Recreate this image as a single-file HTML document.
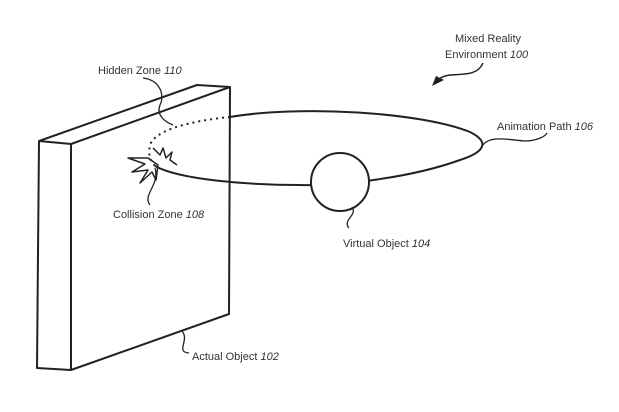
<!DOCTYPE html>
<html><head><style>
body{margin:0;background:#fff;}
svg{display:block}
text{font-family:"Liberation Sans",sans-serif;font-size:11px;fill:#333}
</style></head><body>
<svg width="619" height="412" viewBox="0 0 619 412" xmlns="http://www.w3.org/2000/svg">
<g fill="none" stroke="#222" stroke-width="2" stroke-linejoin="round">
<!-- box -->
<path d="M39,141 L197,85 L230,87 L71,144 Z"/>
<path d="M39,141 L37,368 L71,370 L71,144"/>
<path d="M230,87 L229,314 L71,370"/>
<!-- ellipse visible part -->
<path d="M230,117 C300,105 420,112 470,132 C490,142 485,152 460,160 C410,178 340,186 300,185 C250,185 180,180 155,166"/>
<path d="M230,117 C190,121 155,130 150,145 C148,155 150,160 155,166" stroke-dasharray="2,4"/>
<circle cx="340" cy="182" r="29" fill="#fff"/>
<!-- collision star -->
<path stroke-width="1.5" d="M153,148 L160,155 L163,148 L166,158 L172,152 L170,160 L177,165 M148,158 L128,158 L145,164 L132,172 L148,170 L140,183 L152,172 L156,180 L158,165 Z"/>
<!-- leaders -->
<path stroke-width="1.3" d="M143,78 C160,80 165,95 160,105 C156,115 165,122 173,125"/>
<path stroke-width="1.3" d="M150,205 C142,195 160,185 155,168"/>
<path stroke-width="1.3" d="M189,353 C175,352 190,340 182,331"/>
<path stroke-width="1.3" d="M349,228 C342,220 358,215 352,207"/>
<path stroke-width="1.3" d="M483,145 C490,135 510,140 525,141 C535,141 545,137 547,133"/>
<path stroke-width="1.5" d="M483,63 C478,75 465,74 450,75 C442,76 438,79 434,84"/>
</g>
<path d="M432,86 L436,76 L444,80 Z" fill="#222"/>
<text x="98" y="74">Hidden Zone <tspan font-style="italic">110</tspan></text>
<text x="113" y="218">Collision Zone <tspan font-style="italic">108</tspan></text>
<text x="192" y="360">Actual Object <tspan font-style="italic">102</tspan></text>
<text x="343" y="247">Virtual Object <tspan font-style="italic">104</tspan></text>
<text x="497" y="130">Animation Path <tspan font-style="italic">106</tspan></text>
<text x="455" y="42">Mixed Reality</text>
<text x="445" y="58">Environment <tspan font-style="italic">100</tspan></text>
</svg>
</body></html>
